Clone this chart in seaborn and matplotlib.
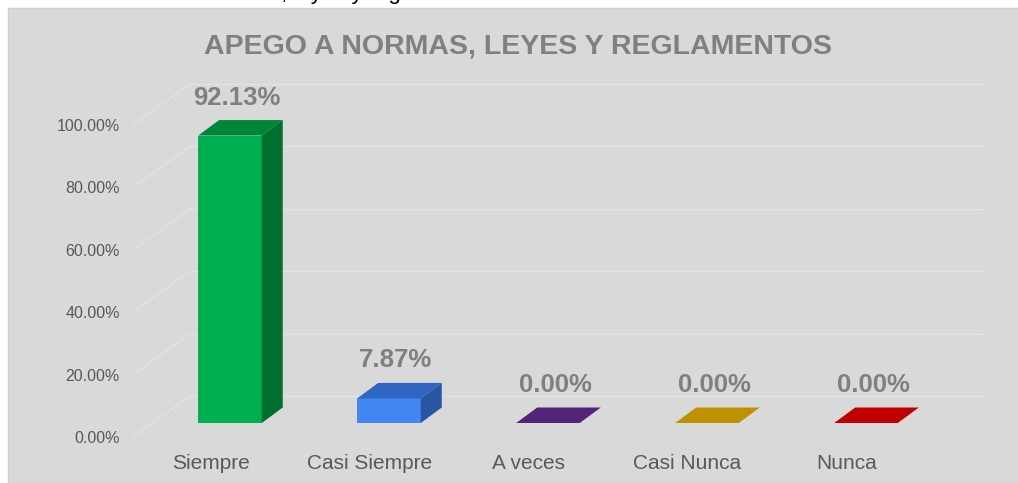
import numpy as np
import pandas as pd
import matplotlib
matplotlib.use("Agg")
import matplotlib.pyplot as plt
from matplotlib.patches import Rectangle, Polygon
from matplotlib.transforms import ScaledTranslation
import seaborn as sns

# ---- data ----
categories = ["Siempre", "Casi Siempre", "A veces", "Casi Nunca", "Nunca"]
values = [92.13, 7.87, 0.00, 0.00, 0.00]
front_colors = ["#00b050", "#4286f4", "#54237a", "#bf9000", "#c00000"]
top_colors = ["#008638", "#3066c2", "#54237a", "#bf9000", "#c00000"]
side_colors = ["#00702f", "#2a55a3", "#3f1a5c", "#8f6c00", "#900000"]
yticks = [0, 20, 40, 60, 80, 100]
title = "APEGO A NORMAS, LEYES Y REGLAMENTOS"
caption = "establecimiento de normas, leyes y reglamentos"

sns.set_style("white")
plt.rcParams["font.family"] = ["Liberation Sans", "DejaVu Sans"]

W, H = 1018, 483
fig = plt.figure(figsize=(W / 100, H / 100), dpi=100)
fig.patch.set_facecolor("white")

# grey chart panel
fig.add_artist(Rectangle((8 / W, 0), 1, (H - 8) / H, transform=fig.transFigure,
                         facecolor="#d9d9d9", edgecolor="#cfcfcf", lw=1, zorder=0))
# caption text above the chart (mostly cut off by the page edge, as in the source)
fig.text(15 / W, 1 + 1 / H, caption, ha="left", va="baseline", fontsize=16,
         color="black", zorder=-1)

xl, xr = -0.487, 4.5
ax_left_px, ax_right_px = 152.5, 945.5
ax = fig.add_axes([ax_left_px / W, 60 / H, (ax_right_px - ax_left_px) / W, 312 / H])
ax.patch.set_visible(False)

df = pd.DataFrame({"cat": categories, "val": values})
sns.barplot(data=df, x="cat", y="val", hue="cat", palette=front_colors,
            width=0.4, saturation=1, legend=False, ax=ax, zorder=3,
            linewidth=0)
ax.set_xlim(xl, xr)
ax.set_ylim(0, 100)

px_x = (ax_right_px - ax_left_px) / (xr - xl)   # pixels per category unit
px_y = 312 / 100.0                               # pixels per percent

# depth offsets
dxd, dyd = 21 / px_x, 15.5 / px_y
fx, fy = -19.5 / px_x, -14 / px_y    # front plane
bx, by = 37.5 / px_x, 27 / px_y      # back wall

grid_c = "#e3e3e3"
for t in yticks:
    ax.plot([xl + bx, xr + bx], [t + by, t + by], color=grid_c, lw=0.9,
            clip_on=False, zorder=1)
    ax.plot([xl + fx, xl + bx], [t + fy, t + by], color=grid_c, lw=0.9,
            clip_on=False, zorder=1)

# 3D faces
for i, p in enumerate(ax.patches):
    x0 = p.get_x()
    x1 = x0 + p.get_width()
    h = p.get_height()
    top = Polygon([(x0, h), (x1, h), (x1 + dxd, h + dyd), (x0 + dxd, h + dyd)],
                  closed=True, facecolor=top_colors[i], edgecolor="none",
                  zorder=4, clip_on=False)
    ax.add_patch(top)
    if h > 0:
        side = Polygon([(x1, 0), (x1, h), (x1 + dxd, h + dyd), (x1 + dxd, dyd)],
                       closed=True, facecolor=side_colors[i], edgecolor="none",
                       zorder=4, clip_on=False)
        ax.add_patch(side)
    ax.annotate(f"{values[i]:.2f}%", (x0 + p.get_width() / 2, h),
                xytext=(7 * 0.72, 38 * 0.72), textcoords="offset points",
                ha="center", va="center", fontsize=18.5, fontweight="bold",
                color="#808080", annotation_clip=False, zorder=6)

# axes styling
for s in ax.spines.values():
    s.set_visible(False)
ax.set_xlabel("")
ax.set_ylabel("")
ax.set_yticks(yticks)
ax.set_yticklabels([f"{t:.2f}%" for t in yticks])
ax.set_xticks(range(len(categories)))
ax.set_xticklabels(categories)
ax.tick_params(axis="y", length=0, pad=9.4, labelsize=11.5, labelcolor="#595959")
ax.tick_params(axis="x", length=0, pad=12.5, labelsize=15, labelcolor="#595959")
off = ScaledTranslation(-19.5 / 100, -14 / 100, fig.dpi_scale_trans)
for lab in ax.get_yticklabels() + ax.get_xticklabels():
    lab.set_transform(lab.get_transform() + off)
ax.grid(False)

fig.text(518 / W, 1 - 47 / H, title, ha="center", va="center", fontsize=20.5,
         fontweight="bold", color="#808080")

fig.savefig("out.png", dpi=100, facecolor=fig.get_facecolor())
